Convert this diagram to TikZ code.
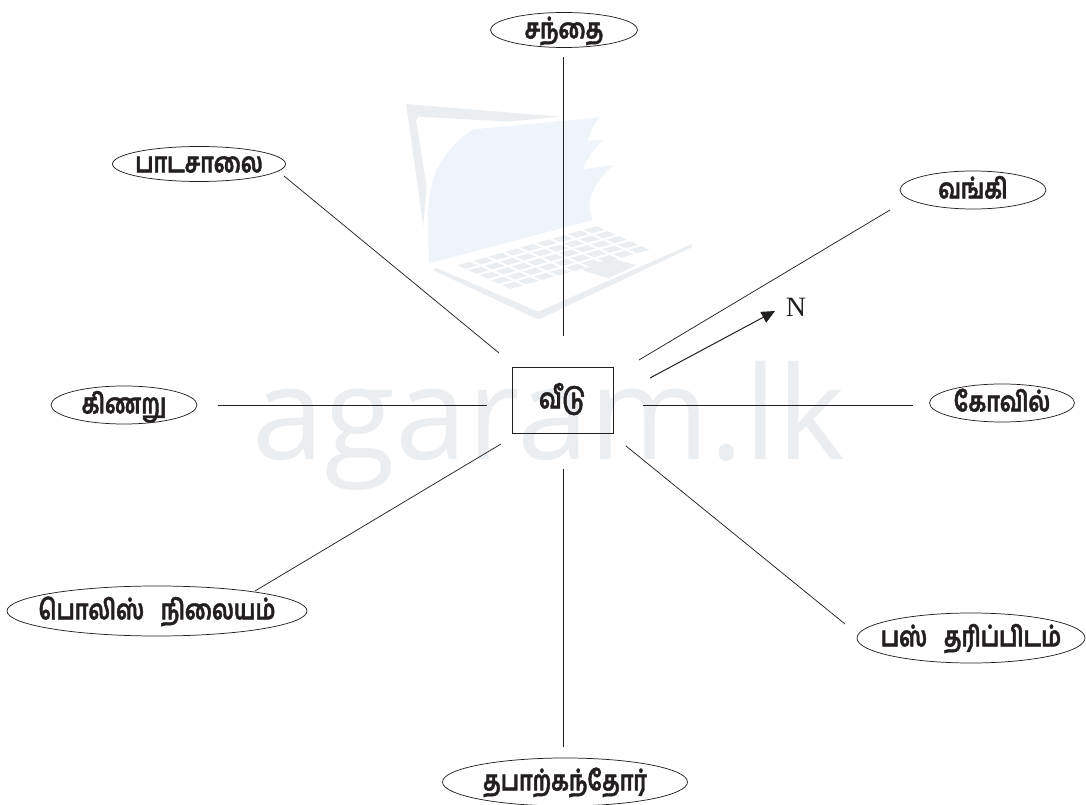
\documentclass[tikz,border=0pt]{standalone}
\usepackage{fontspec}
\usetikzlibrary{shapes.geometric,arrows.meta}
\setmainfont{Liberation Serif}
\newfontfamily\tamilfont[Script=Tamil,FakeStretch=0.78,FakeBold=1.5]{Hind Madurai}
\newfontfamily\wmfont{Open Sans}
\definecolor{wmgrey}{HTML}{EBEEF1}
\definecolor{wmblue}{HTML}{EEF4FA}
\definecolor{ink}{HTML}{231F20}
\newcommand{\pl}[1]{\makebox[0pt]{\raisebox{-0.3em}[0pt][0pt]{#1}}}
\tikzset{
  place/.style={draw=ink,line width=0.55pt,ellipse,inner sep=0pt,text=ink,font=\tamilfont\bfseries\fontsize{21}{24}\selectfont},
  home/.style={draw=ink,line width=0.55pt,rectangle,inner sep=0pt,text=ink,font=\tamilfont\bfseries\fontsize{21}{24}\selectfont},
  link/.style={draw=ink,line width=0.55pt},
  pointer/.style={draw=ink,line width=0.75pt,-{Triangle[length=10pt,width=9pt]}}
}
\begin{document}
\begin{tikzpicture}[x=0.75pt,y=-0.75pt]
\useasboundingbox (0,0) rectangle (1086,805);
% watermark
\node[text=wmgrey,font=\wmfont\fontsize{97}{110}\selectfont,anchor=base,inner sep=0pt] (wm) at (549,460) {agaram.lk};
\begin{scope}[shift={(380,90)},x=0.25pt,y=-0.25pt]
  \fill[wmgrey] (78,42) -- (540,80) -- (385,95) -- (115,80) -- (108,90) -- (140,290) -- (130,410) -- cycle;
  \fill[wmblue] (148,520) .. controls (140,400) and (140,300) .. (170,240) .. controls (195,190) and (240,140) .. (280,118) -- (660,82) .. controls (640,105) and (630,130) .. (622,152) -- (670,150) .. controls (640,180) and (620,210) .. (608,238) -- (700,225) .. controls (650,270) and (610,330) .. (638,390) -- cycle;
  \fill[wmgrey] (158,540) -- (170,534) -- (475,665) -- (935,462) -- (935,472) -- (490,682) .. controls (480,688) and (470,688) .. (460,682) -- cycle;
  \fill[wmgrey] (605,540) -- (690,505) -- (770,525) -- (685,565) -- cycle;
  \begin{scope}[shift={(222,525)},x={(107pt,30pt)},y={(42pt,-18.75pt)}]
    \foreach \i in {0,...,8}
      \foreach \j in {0,...,4}
        \fill[wmgrey] ({(\i+.1)/9},{(\j+.14)/5}) -- ({(\i+.9)/9},{(\j+.14)/5}) -- ({(\i+.9)/9},{(\j+.86)/5}) -- ({(\i+.1)/9},{(\j+.86)/5}) -- cycle;
  \end{scope}
\end{scope}
% nodes
\node[place,minimum width=147pt*0.75,minimum height=35pt*0.75] (a) at (564,30) {\pl{சந்தை}};
\node[place,minimum width=173pt*0.75,minimum height=35pt*0.75] (b) at (199,164) {\pl{பாடசாலை}};
\node[place,minimum width=146pt*0.75,minimum height=38pt*0.75] (c) at (973,190) {\pl{வங்கி}};
\node[place,minimum width=146pt*0.75,minimum height=38pt*0.75] (d) at (124,405) {\pl{கிணறு}};
\node[place,minimum width=145pt*0.75,minimum height=38pt*0.75] (e) at (1002,403) {\pl{கோவில்}};
\node[place,minimum width=300pt*0.75,minimum height=50pt*0.75] (f) at (157,611) {\pl{பொலிஸ்\hspace{0.6em}நிலையம்}};
\node[place,minimum width=228pt*0.75,minimum height=50pt*0.75] (g) at (971,638) {\pl{பஸ்\hspace{0.6em}தரிப்பிடம்}};
\node[place,minimum width=245pt*0.75,minimum height=48pt*0.75] (h) at (565,782) {\pl{தபாற்கந்தோர்}};
\node[home,minimum width=101pt*0.75,minimum height=66pt*0.75] (r) at (562.5,400) {\pl{வீடு}};
\node[text=ink,font=\fontsize{21}{22}\selectfont,inner sep=0pt] (n) at (796,307) {N};
% connector ends
\coordinate (a1) at (563,57);   \coordinate (a2) at (563,336);
\coordinate (b1) at (284,176);  \coordinate (b2) at (499,353);
\coordinate (c1) at (890,210);  \coordinate (c2) at (639,360);
\coordinate (d1) at (218,405);  \coordinate (d2) at (487,405);
\coordinate (e1) at (913,405);  \coordinate (e2) at (643,405);
\coordinate (f1) at (255,591);  \coordinate (f2) at (501,444);
\coordinate (g1) at (845,624);  \coordinate (g2) at (626,446);
\coordinate (h1) at (563,747);  \coordinate (h2) at (563,469);
\coordinate (n1) at (650,378);  \coordinate (n2) at (775,311);
\draw[link] (a1) -- (a2);
\draw[link] (b1) -- (b2);
\draw[link] (c1) -- (c2);
\draw[link] (d1) -- (d2);
\draw[link] (e1) -- (e2);
\draw[link] (f1) -- (f2);
\draw[link] (g1) -- (g2);
\draw[link] (h1) -- (h2);
\draw[pointer] (n1) -- (n2);
\end{tikzpicture}
\end{document}
